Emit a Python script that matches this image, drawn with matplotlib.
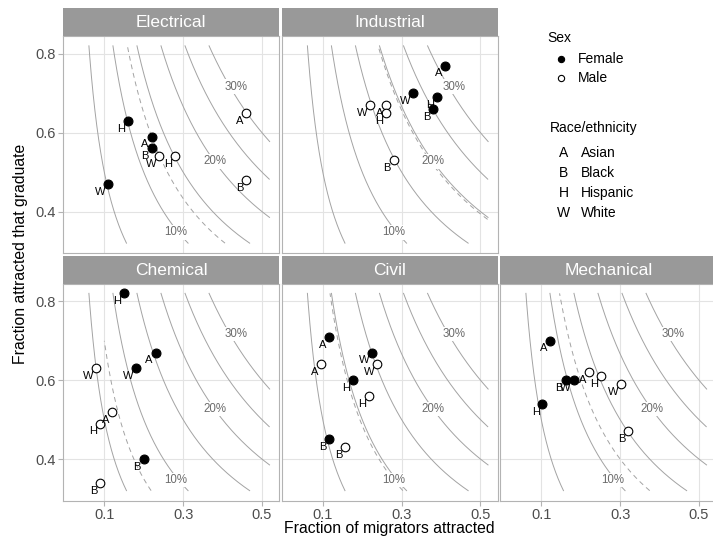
import numpy as np
import matplotlib.pyplot as plt
from matplotlib.lines import Line2D

plt.rcParams['font.family'] = ['Liberation Sans', 'DejaVu Sans']

# data: order of races inside each list is A, B, H, W
majors = ["Electrical", "Industrial", "Chemical", "Civil", "Mechanical"]
races = ["A", "B", "H", "W"]
race_names = ["Asian", "Black", "Hispanic", "White"]

female_attracted = [
    [0.22, 0.22, 0.16, 0.11],
    [0.41, 0.38, 0.39, 0.33],
    [0.23, 0.20, 0.15, 0.18],
    [0.117, 0.117, 0.176, 0.225],
    [0.123, 0.162, 0.103, 0.182],
]
female_graduate = [
    [0.59, 0.56, 0.63, 0.47],
    [0.77, 0.66, 0.69, 0.70],
    [0.67, 0.40, 0.82, 0.63],
    [0.71, 0.45, 0.60, 0.67],
    [0.70, 0.60, 0.54, 0.60],
]
male_attracted = [
    [0.46, 0.46, 0.28, 0.24],
    [0.26, 0.28, 0.26, 0.22],
    [0.12, 0.09, 0.09, 0.08],
    [0.096, 0.157, 0.217, 0.238],
    [0.222, 0.321, 0.252, 0.302],
]
male_graduate = [
    [0.65, 0.48, 0.54, 0.54],
    [0.67, 0.53, 0.65, 0.67],
    [0.52, 0.34, 0.49, 0.63],
    [0.64, 0.43, 0.56, 0.64],
    [0.62, 0.47, 0.61, 0.59],
]

# overall yield of each major (dashed curve)
major_yield = [0.13, 0.197, 0.07, 0.097, 0.12]

# reference yield curves
yield_levels = [0.05, 0.10, 0.15, 0.20, 0.25, 0.30]
yield_labels = ["10%", "20%", "30%"]
yield_label_x = [0.28, 0.38, 0.434]
yield_label_y = [0.347, 0.527, 0.717]

W, H = 713, 539
fig = plt.figure(figsize=(W / 100, H / 100), dpi=100)


def box(l, t, r, b):
    return [l / W, 1 - b / H, (r - l) / W, (b - t) / H]


col_left = [63.3, 281.8, 500.3]
col_w = 216
rows = [(8, 36, 253), (255.5, 283.5, 500.5)]
slots = [(0, 0), (0, 1), (1, 0), (1, 1), (1, 2)]

grey_line = "#A3A3A3"
border = "#B3B3B3"

for k, name in enumerate(majors):
    r, c = slots[k]
    st, pt, pb = rows[r]
    l = col_left[c]
    ax = fig.add_axes(box(l, pt, l + col_w, pb))
    sax = fig.add_axes(box(l, st, l + col_w, pt))
    sax.set_facecolor("#999999")
    sax.set_xticks([])
    sax.set_yticks([])
    for s in sax.spines.values():
        s.set_visible(False)
    sax.text(0.5, 0.47, name, color="white", fontsize=12.5,
             ha="center", va="center", transform=sax.transAxes)

    ax.set_xlim(-0.004, 0.544)
    ax.set_ylim(0.295, 0.845)
    ax.set_xticks([0.1, 0.3, 0.5])
    ax.set_yticks([0.4, 0.6, 0.8])
    ax.grid(True, color="#E3E3E3", lw=0.8)
    ax.set_axisbelow(True)
    for s in ax.spines.values():
        s.set_color(border)
        s.set_linewidth(0.8)
    ax.tick_params(colors=border, labelcolor="#4D4D4D", labelsize=10.5,
                   length=3.3, width=0.8, pad=2)
    if c != 0:
        ax.tick_params(axis="y", left=False, labelleft=False)
    else:
        ax.set_yticklabels(["0.4", "0.6", "0.8"])
    if r == 0:
        ax.tick_params(axis="x", bottom=False, labelbottom=False)
    else:
        ax.set_xticklabels(["0.1", "0.3", "0.5"])

    yy = np.linspace(0.32, 0.82, 300)
    for lev in yield_levels:
        xx = lev / yy
        m = xx <= 0.52
        ax.plot(xx[m], yy[m], color=grey_line, lw=0.7, zorder=2)

    cy = major_yield[k]
    xx = cy / yy
    m = (xx <= 0.52) & (xx >= 0.1)
    ax.plot(xx[m], yy[m], color=grey_line, lw=0.7, ls=(0, (5, 4)), zorder=2)

    for txt, lx, ly in zip(yield_labels, yield_label_x, yield_label_y):
        ax.text(lx, ly, txt, fontsize=8.3, color="#6B6B6B", ha="center",
                va="center", zorder=3,
                bbox=dict(boxstyle="square,pad=0.1", fc="white", ec="none"))

    ax.plot(female_attracted[k], female_graduate[k], "o", ms=6.4,
            mfc="black", mec="black", mew=0.8, ls="none", zorder=5)
    ax.plot(male_attracted[k], male_graduate[k], "o", ms=6.2,
            mfc="white", mec="black", mew=0.8, ls="none", zorder=5)
    for xs, ys in ((female_attracted[k], female_graduate[k]),
                   (male_attracted[k], male_graduate[k])):
        for lab, px, py in zip(races, xs, ys):
            ax.annotate(lab, (px, py), xytext=(-2.0, -5.6),
                        textcoords="offset points", ha="right", va="center",
                        fontsize=8, color="black", zorder=6)

fig.text(389.8 / W, 1 - 528 / H, "Fraction of migrators attracted",
         fontsize=11.3, ha="center", va="center")
fig.text(21 / W, 1 - 254 / H, "Fraction attracted that graduate",
         fontsize=11.3, ha="center", va="center", rotation=90)

# legend
fig.text(547.7 / W, 1 - 38 / H, "Sex", fontsize=10, ha="left", va="center")
for lab, fc, yp in (("Female", "black", 59), ("Male", "white", 77.7)):
    fig.add_artist(Line2D([560.7 / W], [1 - yp / H], marker="o", ms=4.5,
                          mfc=fc, mec="black", mew=0.8, ls="none",
                          transform=fig.transFigure))
    fig.text(578.3 / W, 1 - yp / H, lab, fontsize=10, ha="left", va="center")

fig.text(549.5 / W, 1 - 128.3 / H, "Race/ethnicity", fontsize=10,
         ha="left", va="center")
for lab, nm, yp in zip(races, race_names, [152.7, 172.7, 192.7, 213.3]):
    fig.text(563.5 / W, 1 - yp / H, lab, fontsize=10, ha="center", va="center")
    fig.text(580.7 / W, 1 - yp / H, nm, fontsize=10, ha="left", va="center")

fig.savefig("out.png", dpi=100)
